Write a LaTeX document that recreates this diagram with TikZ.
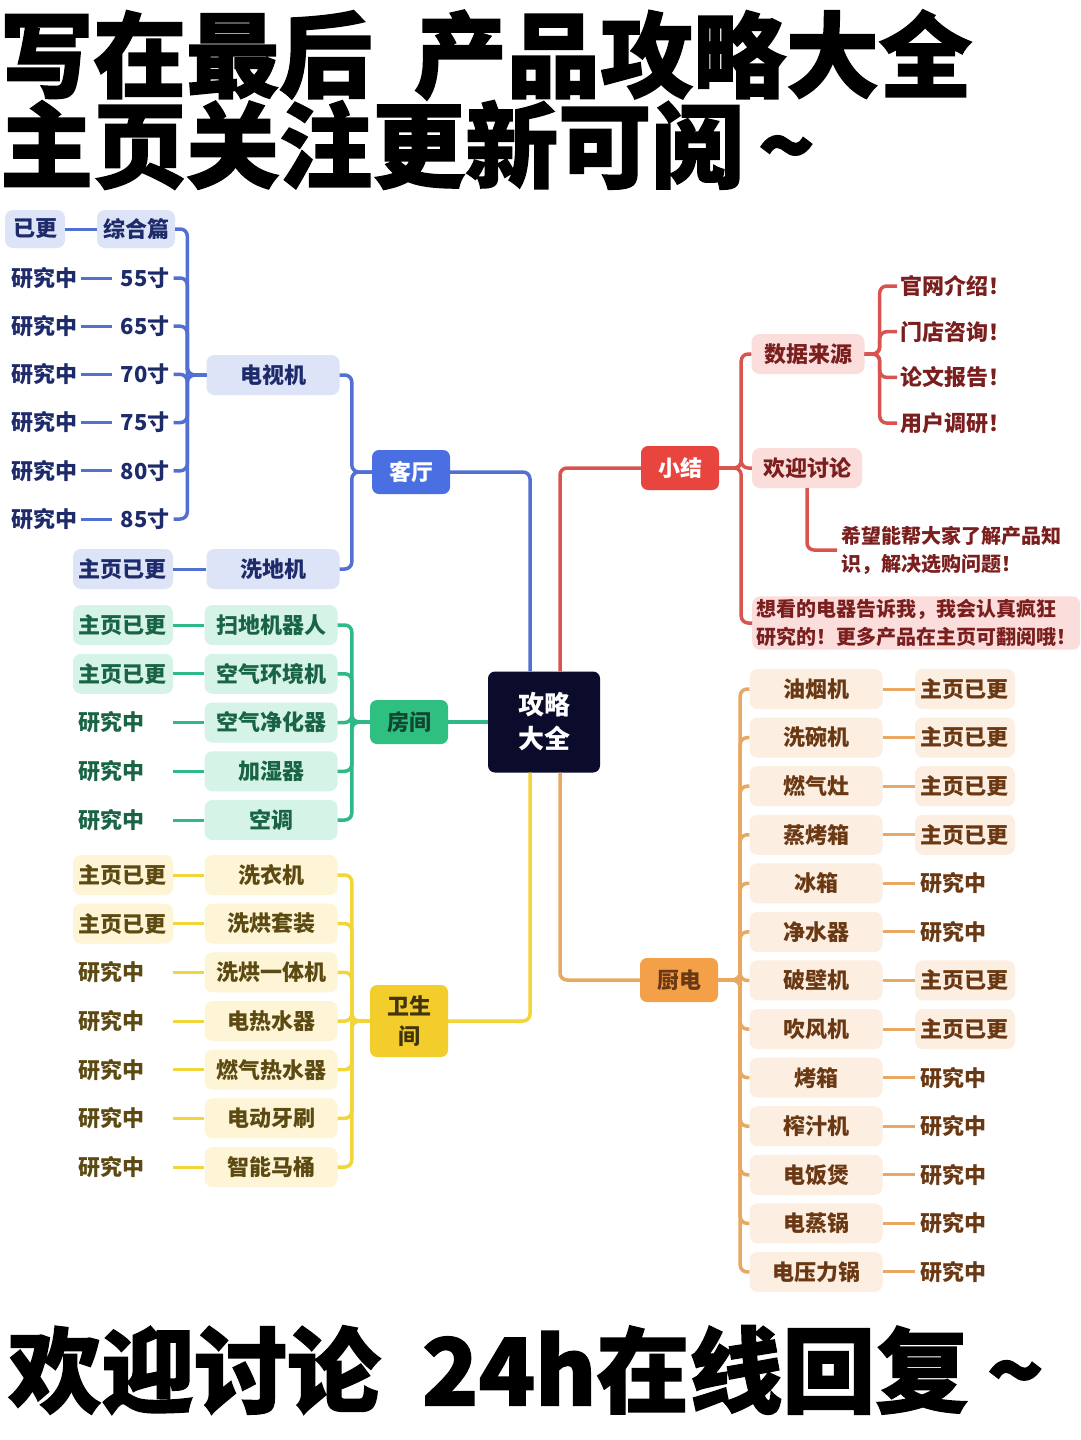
\documentclass[tikz,border=0pt]{standalone}
\usepackage{fontspec}
\setmainfont{Noto Sans CJK SC}
\newfontfamily\heavyfont{Noto Sans CJK SC}[BoldFeatures={FakeBold=1.6}]
\usetikzlibrary{positioning}

\definecolor{hubnavy}{HTML}{0B0B2C}
\definecolor{bluel}{HTML}{5270D2}
\definecolor{bluebox}{HTML}{4A6FE3}
\definecolor{bluefill}{HTML}{DDE4F8}
\definecolor{bluetext}{HTML}{1E2B6B}
\definecolor{greenl}{HTML}{2EB987}
\definecolor{greenbox}{HTML}{2FBF80}
\definecolor{greenfill}{HTML}{D6F3E7}
\definecolor{greentext}{HTML}{186444}
\definecolor{yell}{HTML}{F2D538}
\definecolor{yelbox}{HTML}{F3CD2B}
\definecolor{yelfill}{HTML}{FDF5D6}
\definecolor{yeltext}{HTML}{5C4A12}
\definecolor{orgl}{HTML}{E9A862}
\definecolor{orgbox}{HTML}{F3A049}
\definecolor{orgfill}{HTML}{FCEEE1}
\definecolor{orgtext}{HTML}{6A3914}
\definecolor{redl}{HTML}{D9534F}
\definecolor{redbox}{HTML}{E8453E}
\definecolor{redfill}{HTML}{FBDEDC}
\definecolor{redtext}{HTML}{7A1E1E}

\tikzset{
  base/.style={font=\bfseries\fontsize{22}{28}\selectfont, inner sep=0pt, align=center},
  topic/.style={base, rounded corners=7, minimum width=78, minimum height=44},
  item/.style={base, rounded corners=8, minimum width=133, minimum height=40},
  tag/.style={base, rounded corners=8, text width=90, align=left, inner xsep=5, minimum height=40},
  link/.style={line width=3.5, rounded corners=7},
  thinlink/.style={line width=3},
  bigtitle/.style={anchor=west, inner sep=0pt, font=\heavyfont\bfseries\fontsize{93}{93}\selectfont}
}

\begin{document}
\begin{tikzpicture}[x=1pt, y=-1pt]
\fill[white] (0,0) rectangle (1080,1440);
\useasboundingbox (0,0) rectangle (1080,1440);

% titles
\node[bigtitle] (title1) at (0,55) {写在最后\hspace{0.45em}产品攻略大全};
\node[bigtitle] (title2) at (0,145) {主页关注更新可阅\hspace{0.15em}\textasciitilde};
\node[bigtitle] (title3) at (8,1370) {欢迎讨论\hspace{0.45em}24h在线回复\hspace{0.2em}\textasciitilde};

% hub
\node[base, fill=hubnavy, text=white, rounded corners=7, minimum width=112, minimum height=101,
  font=\bfseries\fontsize{26}{34}\selectfont] (hub) at (544,722) {攻略\\大全};

% living room
\node[topic, fill=bluebox, text=white] (keting) at (411,472) {客厅};
\node[item, fill=bluefill, text=bluetext] (tv) at (273,375) {电视机};
\node[item, fill=bluefill, text=bluetext] (mop) at (273,569) {洗地机};
\node[tag, fill=bluefill, text=bluetext] (mopst) at (123,569) {主页已更};
\node[item, fill=bluefill, text=bluetext, minimum width=78, minimum height=38] (tvall) at (136,229) {综合篇};
\node[base, fill=bluefill, text=bluetext, rounded corners=8, minimum width=60, minimum height=38] (tvallst) at (35,229) {已更};
\foreach \s [count=\i] in {55,65,70,75,80,85}{
  \node[base, text=bluetext] (tvsz\i) at (145,{278+48.2*(\i-1)}) {\s{}寸};
  \node[base, text=bluetext] (tvst\i) at (44,{278+48.2*(\i-1)}) {研究中};
  \draw[thinlink, bluel, shorten <=4, shorten >=8] (tvst\i) -- (tvsz\i);
  \draw[link, bluel] (tv.west) -- ++(-19,0) |- ([xshift=4]tvsz\i.east);
}
\draw[link, bluel] (tv.west) -- ++(-19,0) |- (tvall.east);
\draw[thinlink, bluel] (tvallst) -- (tvall);
\draw[thinlink, bluel] (mopst) -- (mop);
\foreach \c in {tv,mop} \draw[link, bluel] (keting.west) -- ++(-20,0) |- (\c.east);
\draw[link, bluel] (keting.east) -| ([xshift=-14]hub.north);

% bedroom
\node[topic, fill=greenbox, text=greentext!70!black] (fangjian) at (409,722) {房间};
\foreach \n/\st/\fc [count=\i] in {扫地机器人/主页已更/greenfill, 空气环境机/主页已更/greenfill,
  空气净化器/研究中/none, 加湿器/研究中/none, 空调/研究中/none}{
  \node[item, fill=greenfill, text=greentext] (g\i) at (271,{625+48.75*(\i-1)}) {\n};
  \node[tag, fill=\fc, text=greentext] (gs\i) at (123,{625+48.75*(\i-1)}) {\st};
  \draw[thinlink, greenl] (gs\i) -- (g\i);
  \draw[link, greenl] (fangjian.west) -- ++(-18,0) |- (g\i.east);
}
\draw[link, greenl] (fangjian) -- (hub);

% bathroom
\node[topic, fill=yelbox, text=yeltext!70!black, minimum height=72,
  font=\bfseries\fontsize{22}{30}\selectfont] (weisheng) at (409,1021) {卫生\\间};
\foreach \n/\st/\fc [count=\i] in {洗衣机/主页已更/yelfill, 洗烘套装/主页已更/yelfill,
  洗烘一体机/研究中/none, 电热水器/研究中/none, 燃气热水器/研究中/none,
  电动牙刷/研究中/none, 智能马桶/研究中/none}{
  \node[item, fill=yelfill, text=yeltext] (w\i) at (271,{875+48.67*(\i-1)}) {\n};
  \node[tag, fill=\fc, text=yeltext] (ws\i) at (123,{875+48.67*(\i-1)}) {\st};
  \draw[thinlink, yell] (ws\i) -- (w\i);
  \draw[link, yell] (weisheng.west) -- ++(-18,0) |- (w\i.east);
}
\draw[link, yell] (weisheng.east) -| ([xshift=-14]hub.south);

% kitchen
\node[topic, fill=orgbox, text=orgtext] (chudian) at (679,980) {厨电};
\foreach \n/\st/\fc [count=\i] in {油烟机/主页已更/orgfill, 洗碗机/主页已更/orgfill,
  燃气灶/主页已更/orgfill, 蒸烤箱/主页已更/orgfill, 冰箱/研究中/none, 净水器/研究中/none,
  破壁机/主页已更/orgfill, 吹风机/主页已更/orgfill, 烤箱/研究中/none, 榨汁机/研究中/none,
  电饭煲/研究中/none, 电蒸锅/研究中/none, 电压力锅/研究中/none}{
  \node[item, fill=orgfill, text=orgtext] (k\i) at (816,{689+48.58*(\i-1)}) {\n};
  \node[tag, fill=\fc, text=orgtext] (ks\i) at (965,{689+48.58*(\i-1)}) {\st};
  \draw[thinlink, orgl] (k\i) -- (ks\i);
  \draw[link, orgl] (chudian.east) -- ++(22,0) |- (k\i.west);
}
\draw[link, orgl] (chudian.west) -| ([xshift=16]hub.south);

% summary
\node[topic, fill=redbox, text=white] (xiaojie) at (680,468) {小结};
\node[item, fill=redfill, text=redtext, minimum width=113] (source) at (808,354) {数据来源};
\node[item, fill=redfill, text=redtext, minimum width=110] (discuss) at (807,468) {欢迎讨论};
\node[base, text=redtext, anchor=west, align=left, font=\bfseries\fontsize{20}{28}\selectfont]
  (hope) at (841,550) {希望能帮大家了解产品知\\识，解决选购问题！};
\node[base, fill=redfill, text=redtext, rounded corners=8, anchor=west, align=left,
  inner xsep=4, inner ysep=3, font=\bfseries\fontsize{20}{28}\selectfont]
  (wish) at (752,623) {想看的电器告诉我，我会认真疯狂\\研究的！更多产品在主页可翻阅哦！};
\foreach \t [count=\i] in {官网介绍！,门店咨询！,论文报告！,用户调研！}{
  \node[base, text=redtext, anchor=west] (src\i) at (900,{286+45.7*(\i-1)}) {\t};
  \draw[link, redl] (source.east) -- ++(15,0) |- ([xshift=-3]src\i.west);
}
\foreach \c in {source,discuss,wish} \draw[link, redl] (xiaojie.east) -- ++(22,0) |- (\c.west);
\draw[link, redl] (discuss.south) |- ([xshift=-4]hope.west);
\draw[link, redl] (xiaojie.west) -| ([xshift=16]hub.north);
\end{tikzpicture}
\end{document}
